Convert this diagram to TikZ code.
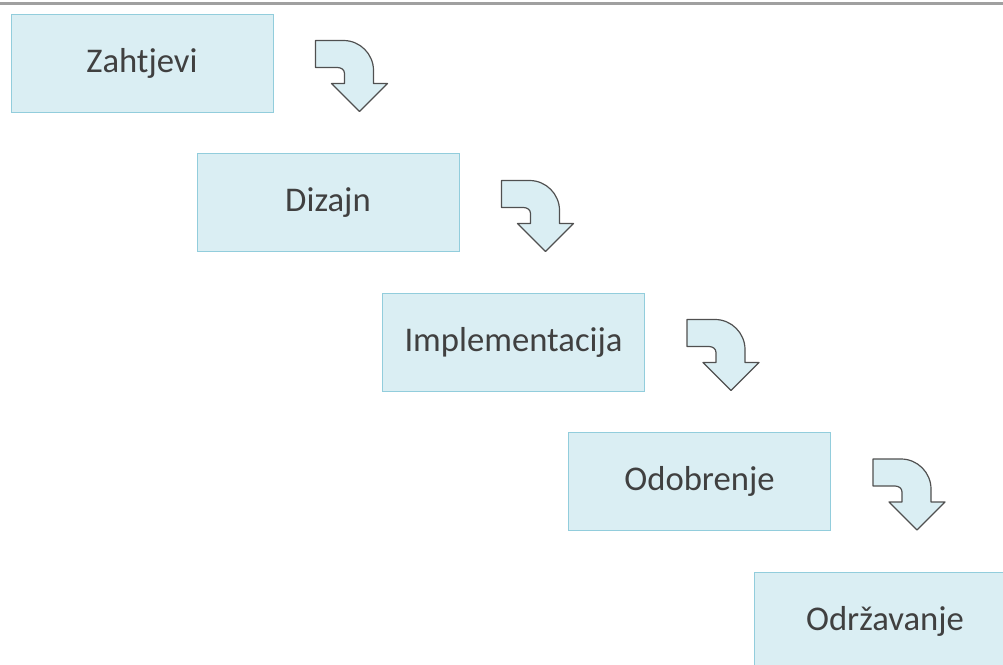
\documentclass[tikz,border=0pt]{standalone}
\usepackage{fontspec}
\setmainfont{Carlito}

\definecolor{boxfill}{HTML}{DAEEF3}
\definecolor{boxline}{HTML}{92CDDC}
\definecolor{arrline}{HTML}{505050}
\definecolor{txtgray}{HTML}{404040}
\definecolor{rulegray}{HTML}{A0A0A0}

\tikzset{
  phase/.style={draw=boxline, fill=boxfill, line width=0.75pt,
    minimum width=196.5pt, minimum height=73.5pt, inner sep=0pt,
    text=txtgray, font=\fontsize{26}{30}\selectfont},
  bentarrow/.pic={
    \draw[draw=arrline, fill=boxfill, line width=0.9pt, line join=round]
      (0,0) -- (28,0) .. controls (44.5,0) and (58,13.5) .. (58,30)
      -- (58,43) -- (72,43) -- (44,71) -- (16,43) -- (29,43) -- (29,33)
      .. controls (29,29.5) and (26,27) .. (22,27) -- (0,27) -- cycle;
  }
}

\begin{document}
\begin{tikzpicture}[x=0.75pt,y=-0.75pt]
      \useasboundingbox (0,0) rectangle (1003,664);
      \clip (0,0) rectangle (1003,664);

      \draw[rulegray, line width=2pt] (0,3.7) -- (1003,3.7);

      \node[phase] (req) at (142,63) {Zahtjevi};
      \node[phase] (des) at (328,202.5) {Dizajn};
      \node[phase] (imp) at (513.5,342) {Implementacija};
      \node[phase] (app) at (699.5,481) {Odobrenje};
      \node[phase] (mnt) at (885,621) {Održavanje};

      \path (req.north east) ++(42,27) pic {bentarrow};
      \path (des.north east) ++(42,27.5) pic {bentarrow};
      \path (imp.north east) ++(42,27) pic {bentarrow};
      \path (app.north east) ++(42,27.5) pic {bentarrow};
\end{tikzpicture}
\end{document}
